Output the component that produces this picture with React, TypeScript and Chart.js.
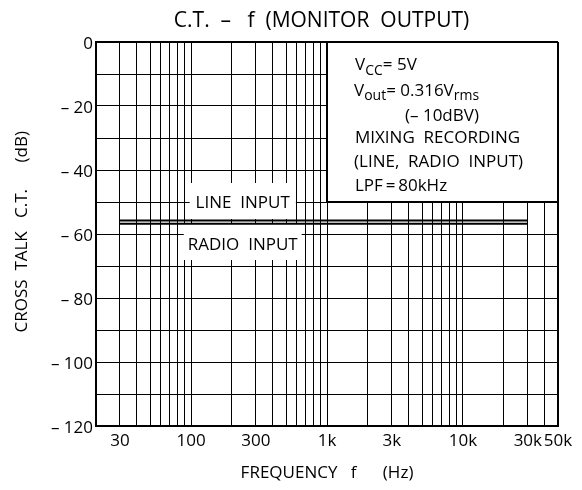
import React, { useEffect, useRef } from 'react';
import { Chart, registerables } from 'chart.js';

Chart.register(...registerables);

const FONT = "'Open Sans', 'DejaVu Sans', sans-serif";

// ---- data ----
const lineInputFreq = [30, 30000];
const lineInputDb = [-55.8, -55.8];
const radioInputFreq = [30, 30000];
const radioInputDb = [-56.8, -56.8];

// ---- axes ----
const xMin = 20;
const xMax = 50000;
const xGridValues = [
  20, 30, 40, 50, 60, 70, 80, 90,
  100, 200, 300, 400, 500, 600, 700, 800, 900,
  1000, 2000, 3000, 4000, 5000, 6000, 7000, 8000, 9000,
  10000, 20000, 30000, 40000, 50000,
];
const xLabelValues = [30, 100, 300, 1000, 3000, 10000, 30000, 50000];
const xLabelTexts = ['30', '100', '300', '1k', '3k', '10k', '30k', '50k'];
const yMin = -120;
const yMax = 0;
const yStep = 10;
const yLabelValues = [0, -20, -40, -60, -80, -100, -120];
const yLabelTexts = ['0', '\u2013 20', '\u2013 40', '\u2013 60', '\u2013 80', '\u2013 100', '\u2013 120'];

// ---- texts ----
const titleText = 'C.T.  \u2013   f  (MONITOR  OUTPUT)  ';
const xTitleText = 'FREQUENCY   f      (Hz)';
const yTitleText = ' CROSS  TALK   C.T.      (dB)';
const lineLabel = 'LINE  INPUT';
const radioLabel = 'RADIO  INPUT';
// [text, isSubscript]
const noteLine1: [string, number][] = [['V', 0], ['CC', 1], ['= 5V', 0]];
const noteLine2: [string, number][] = [['V', 0], ['out', 1], ['= 0.316V', 0], ['rms', 1]];
const noteLine3: [string, number][] = [['(\u2013 10dBV)', 0]];
const noteLine4: [string, number][] = [['MIXING  RECORDING', 0]];
const noteLine5: [string, number][] = [['(LINE,  RADIO  INPUT)', 0]];
const noteLine6: [string, number][] = [['LPF\u2009=\u200980kHz', 0]];

const TXT = 17;

function drawRich(ctx: CanvasRenderingContext2D, segs: [string, number][], x: number, y: number) {
  let cx = x;
  for (const [t, sub] of segs) {
    ctx.font = sub ? `14px ${FONT}` : `${TXT}px ${FONT}`;
    ctx.fillText(t, cx, sub ? y + 4.5 : y);
    cx += ctx.measureText(t).width;
  }
}

const overlayPlugin = {
  id: 'overlay',
  beforeDatasetsDraw(chart: any) {
    const { ctx, scales } = chart;
    const x = scales.x;
    const y = scales.y;
    ctx.save();
    // condition box (1k..50k, 0..-50 dB)
    const bx0 = x.getPixelForValue(1000);
    const bx1 = x.getPixelForValue(50000);
    const by0 = y.getPixelForValue(0);
    const by1 = y.getPixelForValue(-50);
    ctx.fillStyle = '#fff';
    ctx.fillRect(bx0, by0 + 1, bx1 - bx0 - 1, by1 - by0 - 1);
    ctx.strokeStyle = '#000';
    ctx.lineWidth = 2;
    ctx.beginPath();
    ctx.moveTo(Math.round(bx0), by0);
    ctx.lineTo(Math.round(bx0), Math.round(by1));
    ctx.lineTo(bx1, Math.round(by1));
    ctx.stroke();

    ctx.fillStyle = '#000';
    ctx.textAlign = 'left';
    ctx.textBaseline = 'alphabetic';
    const tx = bx0 + 28;
    drawRich(ctx, noteLine1, tx, by0 + 28.4);
    drawRich(ctx, noteLine2, tx - 1, by0 + 53.7);
    drawRich(ctx, noteLine3, tx + 50, by0 + 78.7);
    drawRich(ctx, noteLine4, tx, by0 + 101);
    drawRich(ctx, noteLine5, tx - 1, by0 + 125.4);
    drawRich(ctx, noteLine6, tx, by0 + 149.4);

    // curve labels
    ctx.font = `${TXT}px ${FONT}`;
    const cx = x.getPixelForValue(240);
    const y50 = y.getPixelForValue(-50);
    const y60 = y.getPixelForValue(-60);
    const wLine = ctx.measureText(lineLabel).width;
    const wRadio = ctx.measureText(radioLabel).width;
    ctx.fillStyle = '#fff';
    ctx.fillRect(cx - wLine / 2 - 6, y50 - 19, wLine + 12, 36);
    ctx.fillRect(cx - wRadio / 2 - 4, y60 - 11, wRadio + 8, 37);
    ctx.fillStyle = '#000';
    ctx.textAlign = 'center';
    ctx.fillText(lineLabel, cx, y50 + 5.5);
    ctx.fillText(radioLabel, cx, y60 + 16);
    ctx.restore();
  },
};

export default function App() {
  const canvasRef = useRef<HTMLCanvasElement | null>(null);

  useEffect(() => {
    const canvas = canvasRef.current;
    if (!canvas) return;
    Chart.defaults.font.family = FONT;
    Chart.defaults.color = '#000';

    const chart = new Chart(canvas, {
      type: 'line',
      data: {
        datasets: [
          {
            label: 'LINE INPUT',
            data: lineInputFreq.map((f, i) => ({ x: f, y: lineInputDb[i] })),
            borderColor: '#000',
            borderWidth: 2,
            pointRadius: 0,
            fill: false,
          },
          {
            label: 'RADIO INPUT',
            data: radioInputFreq.map((f, i) => ({ x: f, y: radioInputDb[i] })),
            borderColor: '#000',
            borderWidth: 2,
            pointRadius: 0,
            fill: false,
          },
        ],
      },
      options: {
        animation: false,
        responsive: true,
        maintainAspectRatio: false,
        layout: { padding: { left: 0, right: 24, top: 0, bottom: 0 } },
        plugins: {
          legend: { display: false },
          tooltip: { enabled: false },
          title: {
            display: true,
            text: titleText,
            fullSize: false,
            color: '#000',
            font: { size: 21, weight: 'normal', family: FONT },
            padding: { top: 8.6, bottom: 8.2 },
          },
        },
        scales: {
          x: {
            type: 'logarithmic',
            min: xMin,
            max: xMax,
            bounds: 'data',
            afterBuildTicks: (scale: any) => {
              scale.ticks = xGridValues.map((v) => ({ value: v }));
            },
            afterFit: (scale: any) => {
              scale.height = 64;
            },
            ticks: {
              autoSkip: false,
              maxRotation: 0,
              minRotation: 0,
              padding: 5,
              color: '#000',
              font: { size: TXT, family: FONT },
              callback: (value: any) => {
                const i = xLabelValues.indexOf(Number(value));
                return i >= 0 ? xLabelTexts[i] : '';
              },
            },
            grid: {
              color: '#000',
              drawTicks: false,
              lineWidth: (ctx: any) =>
                ctx.tick && (ctx.tick.value === xMin || ctx.tick.value === xMax) ? 2 : 1,
            },
            border: { display: true, color: '#000', width: 2 },
            title: {
              display: true,
              text: xTitleText,
              color: '#000',
              font: { size: TXT, family: FONT },
              padding: { top: 0, bottom: 7 },
            },
          },
          y: {
            type: 'linear',
            min: yMin,
            max: yMax,
            afterFit: (scale: any) => {
              scale.width = 96;
            },
            ticks: {
              stepSize: yStep,
              autoSkip: false,
              padding: 3,
              labelOffset: 2,
              color: '#000',
              font: { size: TXT, family: FONT },
              callback: (value: any) => {
                const i = yLabelValues.indexOf(Number(value));
                return i >= 0 ? yLabelTexts[i] : '';
              },
            },
            grid: {
              color: '#000',
              drawTicks: false,
              lineWidth: (ctx: any) =>
                ctx.tick && (ctx.tick.value === yMin || ctx.tick.value === yMax) ? 2 : 1,
            },
            border: { display: true, color: '#000', width: 2 },
            title: {
              display: true,
              text: yTitleText,
              color: '#000',
              font: { size: TXT, family: FONT },
              padding: { top: 12, bottom: 0 },
            },
          },
        },
      },
      plugins: [overlayPlugin],
    } as any);

    return () => {
      chart.destroy();
    };
  }, []);

  return (
    <div style={{ position: 'absolute', left: 0, top: 0, width: 582, height: 490, background: '#fff' }}>
      <canvas ref={canvasRef} />
    </div>
  );
}
